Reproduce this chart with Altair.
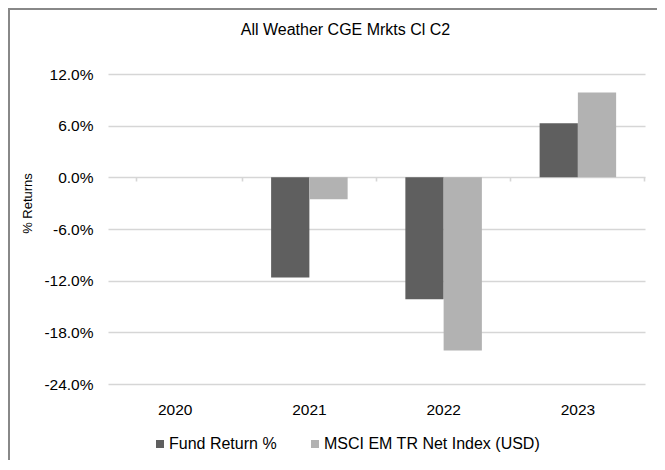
import altair as alt
import pandas as pd

years = ["2020", "2021", "2022", "2023"]
series = ["Fund Return %", "MSCI EM TR Net Index (USD)"]
fund = [None, -11.64, -14.15, 6.27]
msci = [None, -2.55, -20.10, 9.86]
y_ticks = [-24, -18, -12, -6, 0, 6, 12]
colors = ["#5f5f5f", "#b2b2b2"]

rows = []
for i, yr in enumerate(years):
    rows.append({"year": yr, "series": series[0], "value": fund[i]})
    rows.append({"year": yr, "series": series[1], "value": msci[i]})
df = pd.DataFrame(rows)

FONT = "Liberation Sans"

xscale = alt.Scale(domain=years, paddingInner=0.43, paddingOuter=0.215)
yscale = alt.Scale(domain=[-24, 12], nice=False, zero=False)

bars = alt.Chart(df).mark_bar().encode(
    x=alt.X("year:N", scale=xscale, sort=years,
            axis=alt.Axis(title=None, labelAngle=0, ticks=False, domain=False,
                          grid=False, labelPadding=18, labelFontSize=15.5,
                          labelColor="#000", labelFont=FONT)),
    xOffset=alt.XOffset("series:N", sort=series),
    y=alt.Y("value:Q", scale=yscale,
            axis=alt.Axis(values=y_ticks, title="% Returns",
                          labelExpr="(datum.value < 0 ? '-' : '') + format(abs(datum.value), '.1f') + '%'",
                          ticks=False, domain=False, labelPadding=15,
                          labelFontSize=15.5, labelColor="#000", labelFont=FONT,
                          gridColor="#d6d6d6", gridWidth=1.6,
                          titleFontSize=13, titleFontWeight="normal",
                          titleColor="#000", titleFont=FONT,
                          titleX=-81, titleY=129, titleBaseline="middle",
                          titleAlign="center")),
    color=alt.Color("series:N", sort=series,
                    scale=alt.Scale(domain=series, range=colors),
                    legend=alt.Legend(orient="none", legendX=44, legendY=362,
                                      direction="horizontal", title=None,
                                      symbolType="square", symbolSize=64,
                                      symbolStrokeWidth=0, labelFontSize=16,
                                      labelFont=FONT, labelColor="#000",
                                      labelOffset=1, columnPadding=30,
                                      labelLimit=0)),
)

zero_ticks = alt.Chart(df).mark_point(opacity=0).encode(
    x=alt.X("year:N", scale=xscale, sort=years,
            axis=alt.Axis(title=None, labels=False, domain=False, grid=False,
                          ticks=True, bandPosition=1.377, tickExtra=True,
                          tickSize=4, tickColor="#d6d6d6", tickWidth=1.6,
                          orient="bottom", offset=-207)),
    y=alt.Y("value:Q", scale=yscale),
)

one = pd.DataFrame({"k": [0]})
frame_left = alt.Chart(one).mark_rule(color="#888888", strokeWidth=2).encode(
    x=alt.value(-99), y=alt.value(-66), y2=alt.value(390))
frame_top = alt.Chart(one).mark_rule(color="#888888", strokeWidth=2).encode(
    x=alt.value(-100), x2=alt.value(549), y=alt.value(-65))

chart = alt.layer(bars, zero_ticks, frame_left, frame_top).resolve_axis(
    x="independent"
).properties(
    width=537,
    height=310,
    autosize=alt.AutoSizeParams(type="none"),
    padding={"left": 100, "top": 66, "right": 12, "bottom": 76},
    title=alt.TitleParams("All Weather CGE Mrkts Cl C2", fontSize=16,
                          fontWeight="normal", font=FONT, color="#000",
                          dx=-31, offset=-31, anchor="middle"),
).configure(font=FONT).configure_view(stroke=None)

chart.save("out.html", embed_options={"renderer": "svg", "actions": False})
